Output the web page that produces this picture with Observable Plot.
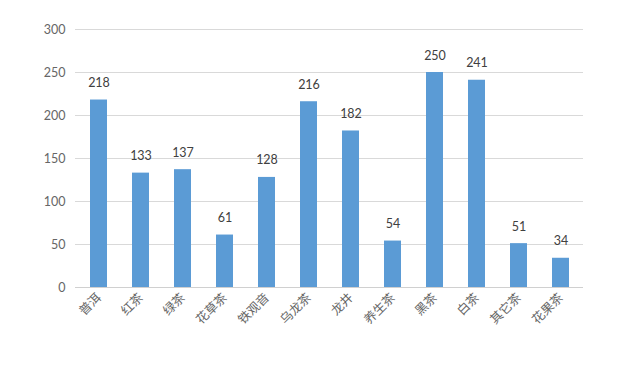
<!DOCTYPE html>
<html>
<head>
<meta charset="utf-8">
<script src="https://cdn.jsdelivr.net/npm/d3@7"></script>
<script src="https://cdn.jsdelivr.net/npm/@observablehq/plot@0.6"></script>
<style>
  html, body { margin: 0; padding: 0; background: #fff; }
  #chart { width: 640px; height: 367px; }
</style>
</head>
<body>
<div id="chart"></div>
<script>
const categories = ["普洱", "红茶", "绿茶", "花草茶", "铁观音", "乌龙茶", "龙井", "养生茶", "黑茶", "白茶", "其它茶", "花果茶"];
const values = [218, 133, 137, 61, 128, 216, 182, 54, 250, 241, 51, 34];
const yTicks = [0, 50, 100, 150, 200, 250, 300];

const data = categories.map((c, i) => ({category: c, value: values[i]}));

const chart = Plot.plot({
  width: 640,
  height: 367,
  marginLeft: 75,
  marginRight: 57,
  marginTop: 29,
  marginBottom: 80,
  style: {fontFamily: "Lato, 'Noto Sans CJK SC', sans-serif", fontSize: "12.5px", color: "#666666", background: "#fff"},
  x: {domain: categories, paddingInner: 0.6, paddingOuter: 0.3, label: null, tickSize: 0, tickRotate: -45, tickPadding: 8},
  y: {domain: [0, 300], ticks: yTicks, label: null, tickSize: 0, tickPadding: 10},
  marks: [
    Plot.gridY(yTicks.filter(d => d > 0), {stroke: "#d9d9d9", strokeOpacity: 1}),
    Plot.ruleY([0], {stroke: "#d0d0d0"}),
    Plot.barY(data, {x: "category", y: "value", fill: "#5B9BD5"}),
    Plot.text(data, {x: "category", y: "value", text: d => String(d.value), dy: -17, fill: "#404040", fontSize: 12.5})
  ]
});
document.getElementById("chart").appendChild(chart);
</script>
</body>
</html>
